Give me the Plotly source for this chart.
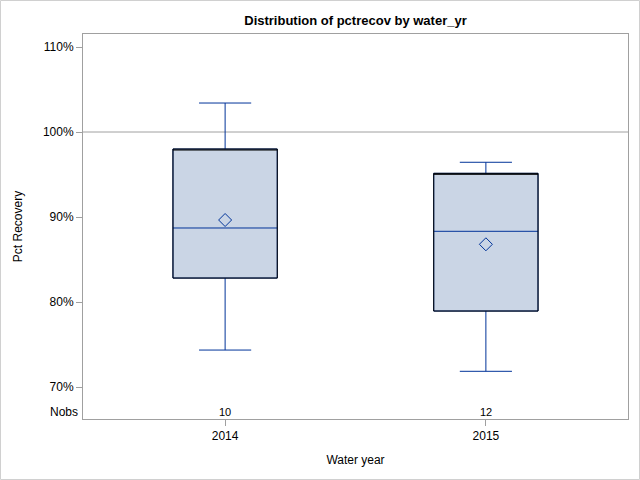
import plotly.graph_objects as go

# ---- data ----
water_years = ["2014", "2015"]
nobs = [10, 12]
lower_whisker = [74.35, 71.85]
q1 = [82.82, 78.94]
median = [88.71, 88.32]
q3 = [98.0, 95.14]
upper_whisker = [103.41, 96.44]
means = [89.65, 86.79]
y_ticks = [70, 80, 90, 100, 110]
y_tick_labels = [f"{v}%" for v in y_ticks]
reference_value = 100

FONT = "Liberation Sans, Arial, sans-serif"
BLUE = "#003399"
FILL = "#cad5e5"
GREY = "#a0a0a0"

fig = go.Figure()

# filled box with blue whiskers and median
fig.add_trace(go.Box(
    x=water_years, q1=q1, median=median, q3=q3,
    lowerfence=lower_whisker, upperfence=upper_whisker,
    fillcolor=FILL, line=dict(color=BLUE, width=1),
    width=0.4, whiskerwidth=0.5, boxpoints=False,
    hoverinfo="skip", showlegend=False,
))
# black outline of the inter-quartile box
fig.add_trace(go.Box(
    x=water_years, q1=q1, median=q3, q3=q3,
    lowerfence=q1, upperfence=q3,
    fillcolor="rgba(0,0,0,0)", line=dict(color="black", width=1),
    width=0.4, whiskerwidth=0, boxpoints=False,
    hoverinfo="skip", showlegend=False,
))
# mean markers
fig.add_trace(go.Scatter(
    x=water_years, y=means, mode="markers",
    marker=dict(symbol="diamond-open", size=10, color=BLUE, line=dict(width=1, color=BLUE)),
    hoverinfo="skip", showlegend=False,
))

# Nobs row inside the plot frame (category positions by index)
nobs_y = 67.1
for i, n in enumerate(nobs):
    fig.add_annotation(x=i, y=nobs_y, xref="x", yref="y", text=str(n),
                       showarrow=False, font=dict(family=FONT, size=11, color="black"))
fig.add_annotation(x=0, y=nobs_y, xref="paper", yref="y", text="Nobs",
                   xanchor="right", xshift=-3, showarrow=False,
                   font=dict(family=FONT, size=12, color="black"))

# reference line
fig.add_shape(type="line", xref="paper", yref="y", x0=0, x1=1,
              y0=reference_value, y1=reference_value,
              line=dict(color=GREY, width=1), layer="below")

W, H = 640, 480
ml, mr, mt, mb = 83, 12, 34, 61
pw, ph = W - ml - mr, H - mt - mb
# outer light border around the whole graphic
fig.add_shape(type="rect", xref="paper", yref="paper",
              x0=-ml / pw + 0.5 / pw, x1=1 + mr / pw - 0.5 / pw,
              y0=-mb / ph + 0.5 / ph, y1=1 + mt / ph - 0.5 / ph,
              line=dict(color="#d0d0d0", width=1))

fig.update_layout(
    width=W, height=H,
    margin=dict(l=ml, r=mr, t=mt, b=mb, autoexpand=False),
    paper_bgcolor="white", plot_bgcolor="white",
    boxmode="overlay",
    font=dict(family=FONT, size=12, color="black"),
    title=dict(text="<b>Distribution of pctrecov by water_yr</b>",
               x=0.5, xref="paper", xanchor="center",
               y=1 - 20 / H, yanchor="middle",
               font=dict(family=FONT, size=13, color="black")),
    xaxis=dict(type="category", range=[-0.545, 1.545],
               showline=True, mirror=True, linecolor=GREY, linewidth=1,
               ticks="outside", ticklen=6, tickcolor=GREY,
               showgrid=False, zeroline=False,
               tickfont=dict(family=FONT, size=12),
               title=dict(text="Water year", font=dict(family=FONT, size=12), standoff=13)),
    yaxis=dict(range=[66.24, 111.53],
               tickvals=y_ticks, ticktext=y_tick_labels,
               showline=True, mirror=True, linecolor=GREY, linewidth=1,
               ticks="outside", ticklen=6, tickcolor=GREY,
               showgrid=False, zeroline=False,
               tickfont=dict(family=FONT, size=12),
               title=dict(text="Pct Recovery", font=dict(family=FONT, size=12), standoff=17)),
)

fig.write_html("out.html", config={"displayModeBar": False},
               post_script="document.body.style.margin='0';")
